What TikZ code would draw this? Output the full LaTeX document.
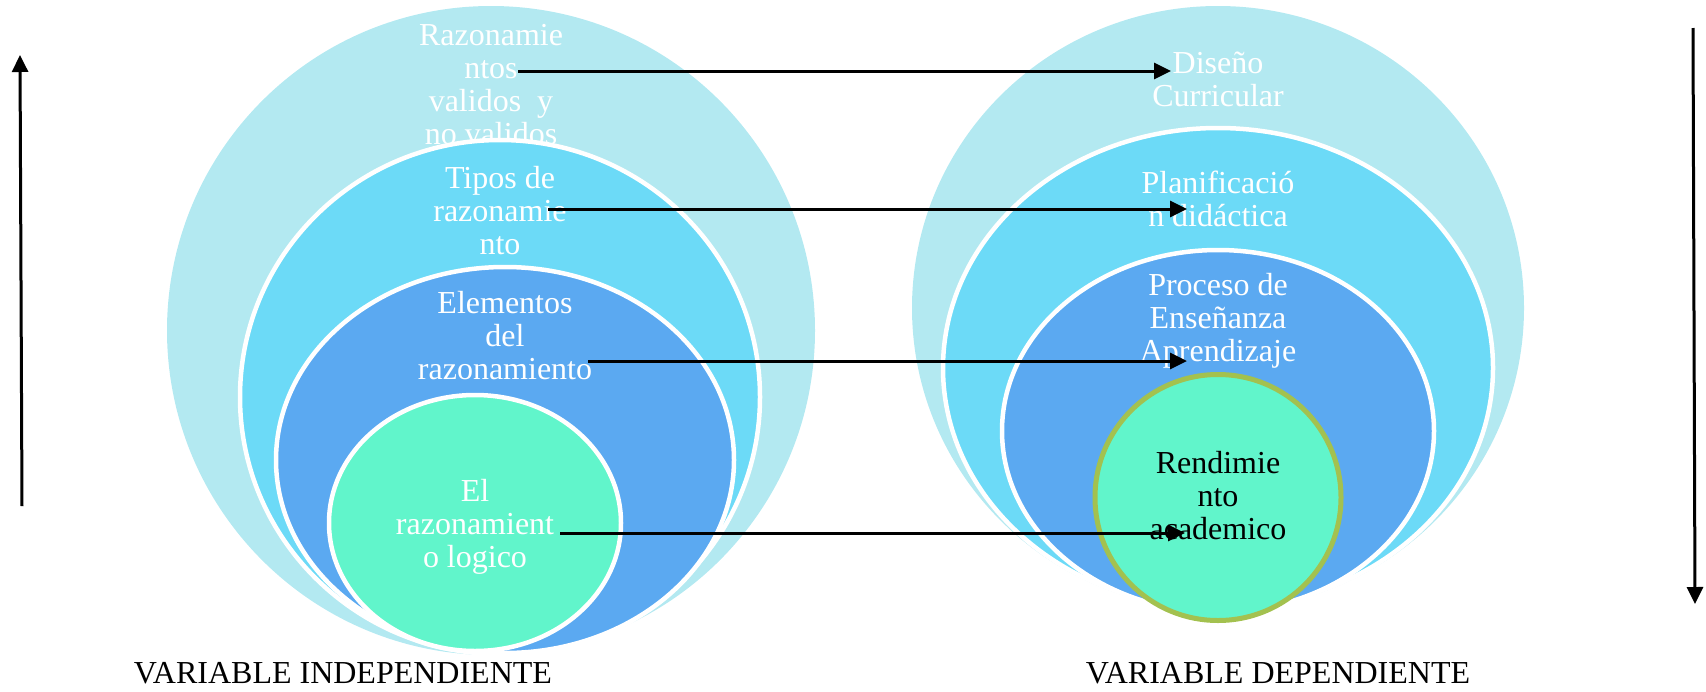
\documentclass[tikz,border=0pt]{standalone}
\usepackage{fontspec}
\setmainfont{Liberation Serif}
\usetikzlibrary{arrows.meta}
\definecolor{celeste}{HTML}{B3E9F1}
\definecolor{turquesa}{HTML}{6CDAF7}
\definecolor{azul}{HTML}{5BA9F1}
\definecolor{verde}{HTML}{61F5CB}
\definecolor{oliva}{HTML}{A3C14F}

\begin{document}
\begin{tikzpicture}[x=1pt,y=-1pt,
  ring/.style={draw=white,line width=4.5pt},
  lbl/.style={align=center,text=white,font=\fontsize{32}{33}\selectfont,inner sep=0pt,anchor=base},
  conn/.style={line width=3pt,-{Triangle[length=17pt,width=16pt]}}]
\useasboundingbox (0,0) rectangle (1706,691);

% variable independiente
\fill[celeste] (491,330.5) ellipse [x radius=324pt, y radius=324.5pt];
\node[lbl] (L1) at (491,144) {Razonamie\\ntos\\validos\ \ y\\no validos};
\filldraw[ring,fill=turquesa] (500,397) ellipse [x radius=260pt, y radius=257pt];
\node[lbl] (L2) at (500,254) {Tipos de\\razonamie\\nto};
\filldraw[ring,fill=azul] (505,460) ellipse [x radius=229pt, y radius=193pt];
\node[lbl] (L3) at (505,379) {Elementos\\del\\razonamiento};
\filldraw[ring,fill=verde] (475,523) ellipse [x radius=146pt, y radius=128pt];
\node[lbl] (L4) at (475,567) {El\\razonamient\\o logico};

% variable dependiente
\fill[celeste] (1218,308) ellipse [x radius=306pt, y radius=302pt];
\node[lbl] (R1) at (1218,106) {Diseño\\Curricular};
\filldraw[ring,fill=turquesa] (1218,368) ellipse [x radius=275pt, y radius=240pt];
\node[lbl] (R2) at (1218,226) {Planificació\\n didáctica};
\filldraw[ring,fill=azul] (1218,431) ellipse [x radius=216pt, y radius=181pt];
\node[lbl] (R3) at (1218,361) {Proceso de\\Enseñanza\\Aprendizaje};
\filldraw[draw=oliva,line width=5pt,fill=verde] (1218,497.5) circle (123pt);
\node[lbl,text=black] (R4) at (1218,539) {Rendimie\\nto\\academico};

% flechas
\coordinate (s1) at (518,71);  \coordinate (e1) at (1171,71);
\coordinate (s2) at (548,209); \coordinate (e2) at (1187,209);
\coordinate (s3) at (588,361); \coordinate (e3) at (1187,361);
\coordinate (s4) at (560,533); \coordinate (e4) at (1185,533);
\foreach \i in {1,...,4}
  \draw[conn] (s\i) -- (e\i);

\coordinate (up0) at (22,506);   \coordinate (up1) at (20,55);
\coordinate (dn0) at (1693,28);  \coordinate (dn1) at (1695,604);
\draw[conn] (up0) -- (up1);
\draw[conn] (dn0) -- (dn1);

\node[lbl,text=black] (vi) at (343,683) {VARIABLE INDEPENDIENTE};
\node[lbl,text=black] (vd) at (1278,683) {VARIABLE DEPENDIENTE};
\end{tikzpicture}
\end{document}
